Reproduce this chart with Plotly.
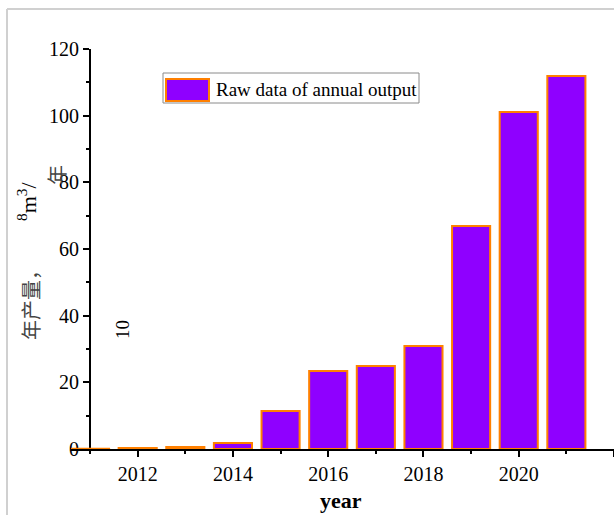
import plotly.graph_objects as go

years = [2011, 2012, 2013, 2014, 2015, 2016, 2017, 2018, 2019, 2020, 2021]
output = [0.1, 0.3, 0.6, 1.8, 11.4, 23.4, 24.9, 30.9, 66.9, 101.1, 111.9]
series_name = "Raw data of annual output"
x_title = "year"

W, H = 614, 515
L, R, T, B = 71, 0, 49, 66
PW, PH = W - L - R, H - T - B
XR = [2010.6, 2022.0]

def px(x):
    return (x - L) / PW

def py(y):
    return (H - B - y) / PH

FONT = "Liberation Serif"
PURPLE = "#8F00FF"
ORANGE = "#FF8000"

fig = go.Figure()
fig.add_trace(go.Bar(x=years, y=output, name=series_name,
                     marker=dict(color=PURPLE, line=dict(color=ORANGE, width=2)),
                     showlegend=False, cliponaxis=False))

shapes = [
    dict(type="line", xref="paper", yref="paper", x0=px(7), x1=px(620), y0=py(9), y1=py(9),
         line=dict(color="#d0d0d0", width=2)),
    dict(type="line", xref="paper", yref="paper", x0=px(7), x1=px(7), y0=py(9), y1=py(520),
         line=dict(color="#d0d0d0", width=2)),
    dict(type="rect", xref="paper", yref="paper", x0=px(163), x1=px(419), y0=py(73), y1=py(103),
         line=dict(color="#8a8a8a", width=1), fillcolor="white"),
    dict(type="rect", xref="paper", yref="paper", x0=px(166), x1=px(209), y0=py(79), y1=py(101),
         line=dict(color=ORANGE, width=2), fillcolor=PURPLE),
]

annotations = [
    dict(text=series_name, xref="paper", yref="paper", x=px(214), y=py(89),
         xanchor="left", yanchor="middle", showarrow=False,
         font=dict(family=FONT, size=19, color="black")),
    dict(text="<b>" + x_title + "</b>", xref="paper", yref="paper", x=px(341), y=py(501),
         xanchor="center", yanchor="middle", showarrow=False,
         font=dict(family=FONT, size=22, color="black")),
    dict(text="年产量，", xref="paper", yref="paper", x=px(30), y=py(300), textangle=-90,
         xanchor="center", yanchor="middle", showarrow=False,
         font=dict(family="Noto Sans CJK SC", size=20, color="#444")),
    dict(text="<sup>8</sup>m<sup>3</sup>/", xref="paper", yref="paper", x=px(27), y=py(201), textangle=-90,
         xanchor="center", yanchor="middle", showarrow=False,
         font=dict(family=FONT, size=22, color="black")),
    dict(text="年", xref="paper", yref="paper", x=px(57), y=py(175), textangle=-90,
         xanchor="center", yanchor="middle", showarrow=False,
         font=dict(family="Noto Sans CJK SC", size=20, color="#444")),
    dict(text="10", xref="paper", yref="paper", x=px(122), y=py(330), textangle=-90,
         xanchor="center", yanchor="middle", showarrow=False,
         font=dict(family=FONT, size=19, color="black")),
]

fig.update_layout(
    width=W, height=H,
    margin=dict(l=L, r=R, t=T, b=B, autoexpand=False),
    paper_bgcolor="white", plot_bgcolor="white",
    bargap=0.2,
    font=dict(family=FONT, size=20, color="black"),
    shapes=shapes,
    annotations=annotations,
    xaxis=dict(range=XR, showline=True, linecolor="black", linewidth=2, automargin=False,
               layer="below traces",
               tickmode="linear", tick0=2012, dtick=2,
               ticks="outside", ticklen=6, tickwidth=2, tickcolor="black",
               minor=dict(dtick=1, tick0=2011, ticks="outside", ticklen=3, tickwidth=2, tickcolor="black"),
               showgrid=False, zeroline=False,
               tickfont=dict(family=FONT, size=20)),
    yaxis=dict(range=[0, 120], anchor="free", position=(2011 - XR[0]) / (XR[1] - XR[0]),
               showline=True, linecolor="black", linewidth=2, automargin=False,
               layer="below traces",
               tickmode="linear", tick0=0, dtick=20,
               ticks="outside", ticklen=6, tickwidth=2, tickcolor="black",
               minor=dict(dtick=10, ticks="outside", ticklen=3, tickwidth=2, tickcolor="black"),
               showgrid=False, zeroline=False,
               tickfont=dict(family=FONT, size=20)),
)

fig.write_html("out.html",
               config={"displayModeBar": False},
               post_script="document.body.style.margin='0px';document.body.style.overflow='hidden';")
